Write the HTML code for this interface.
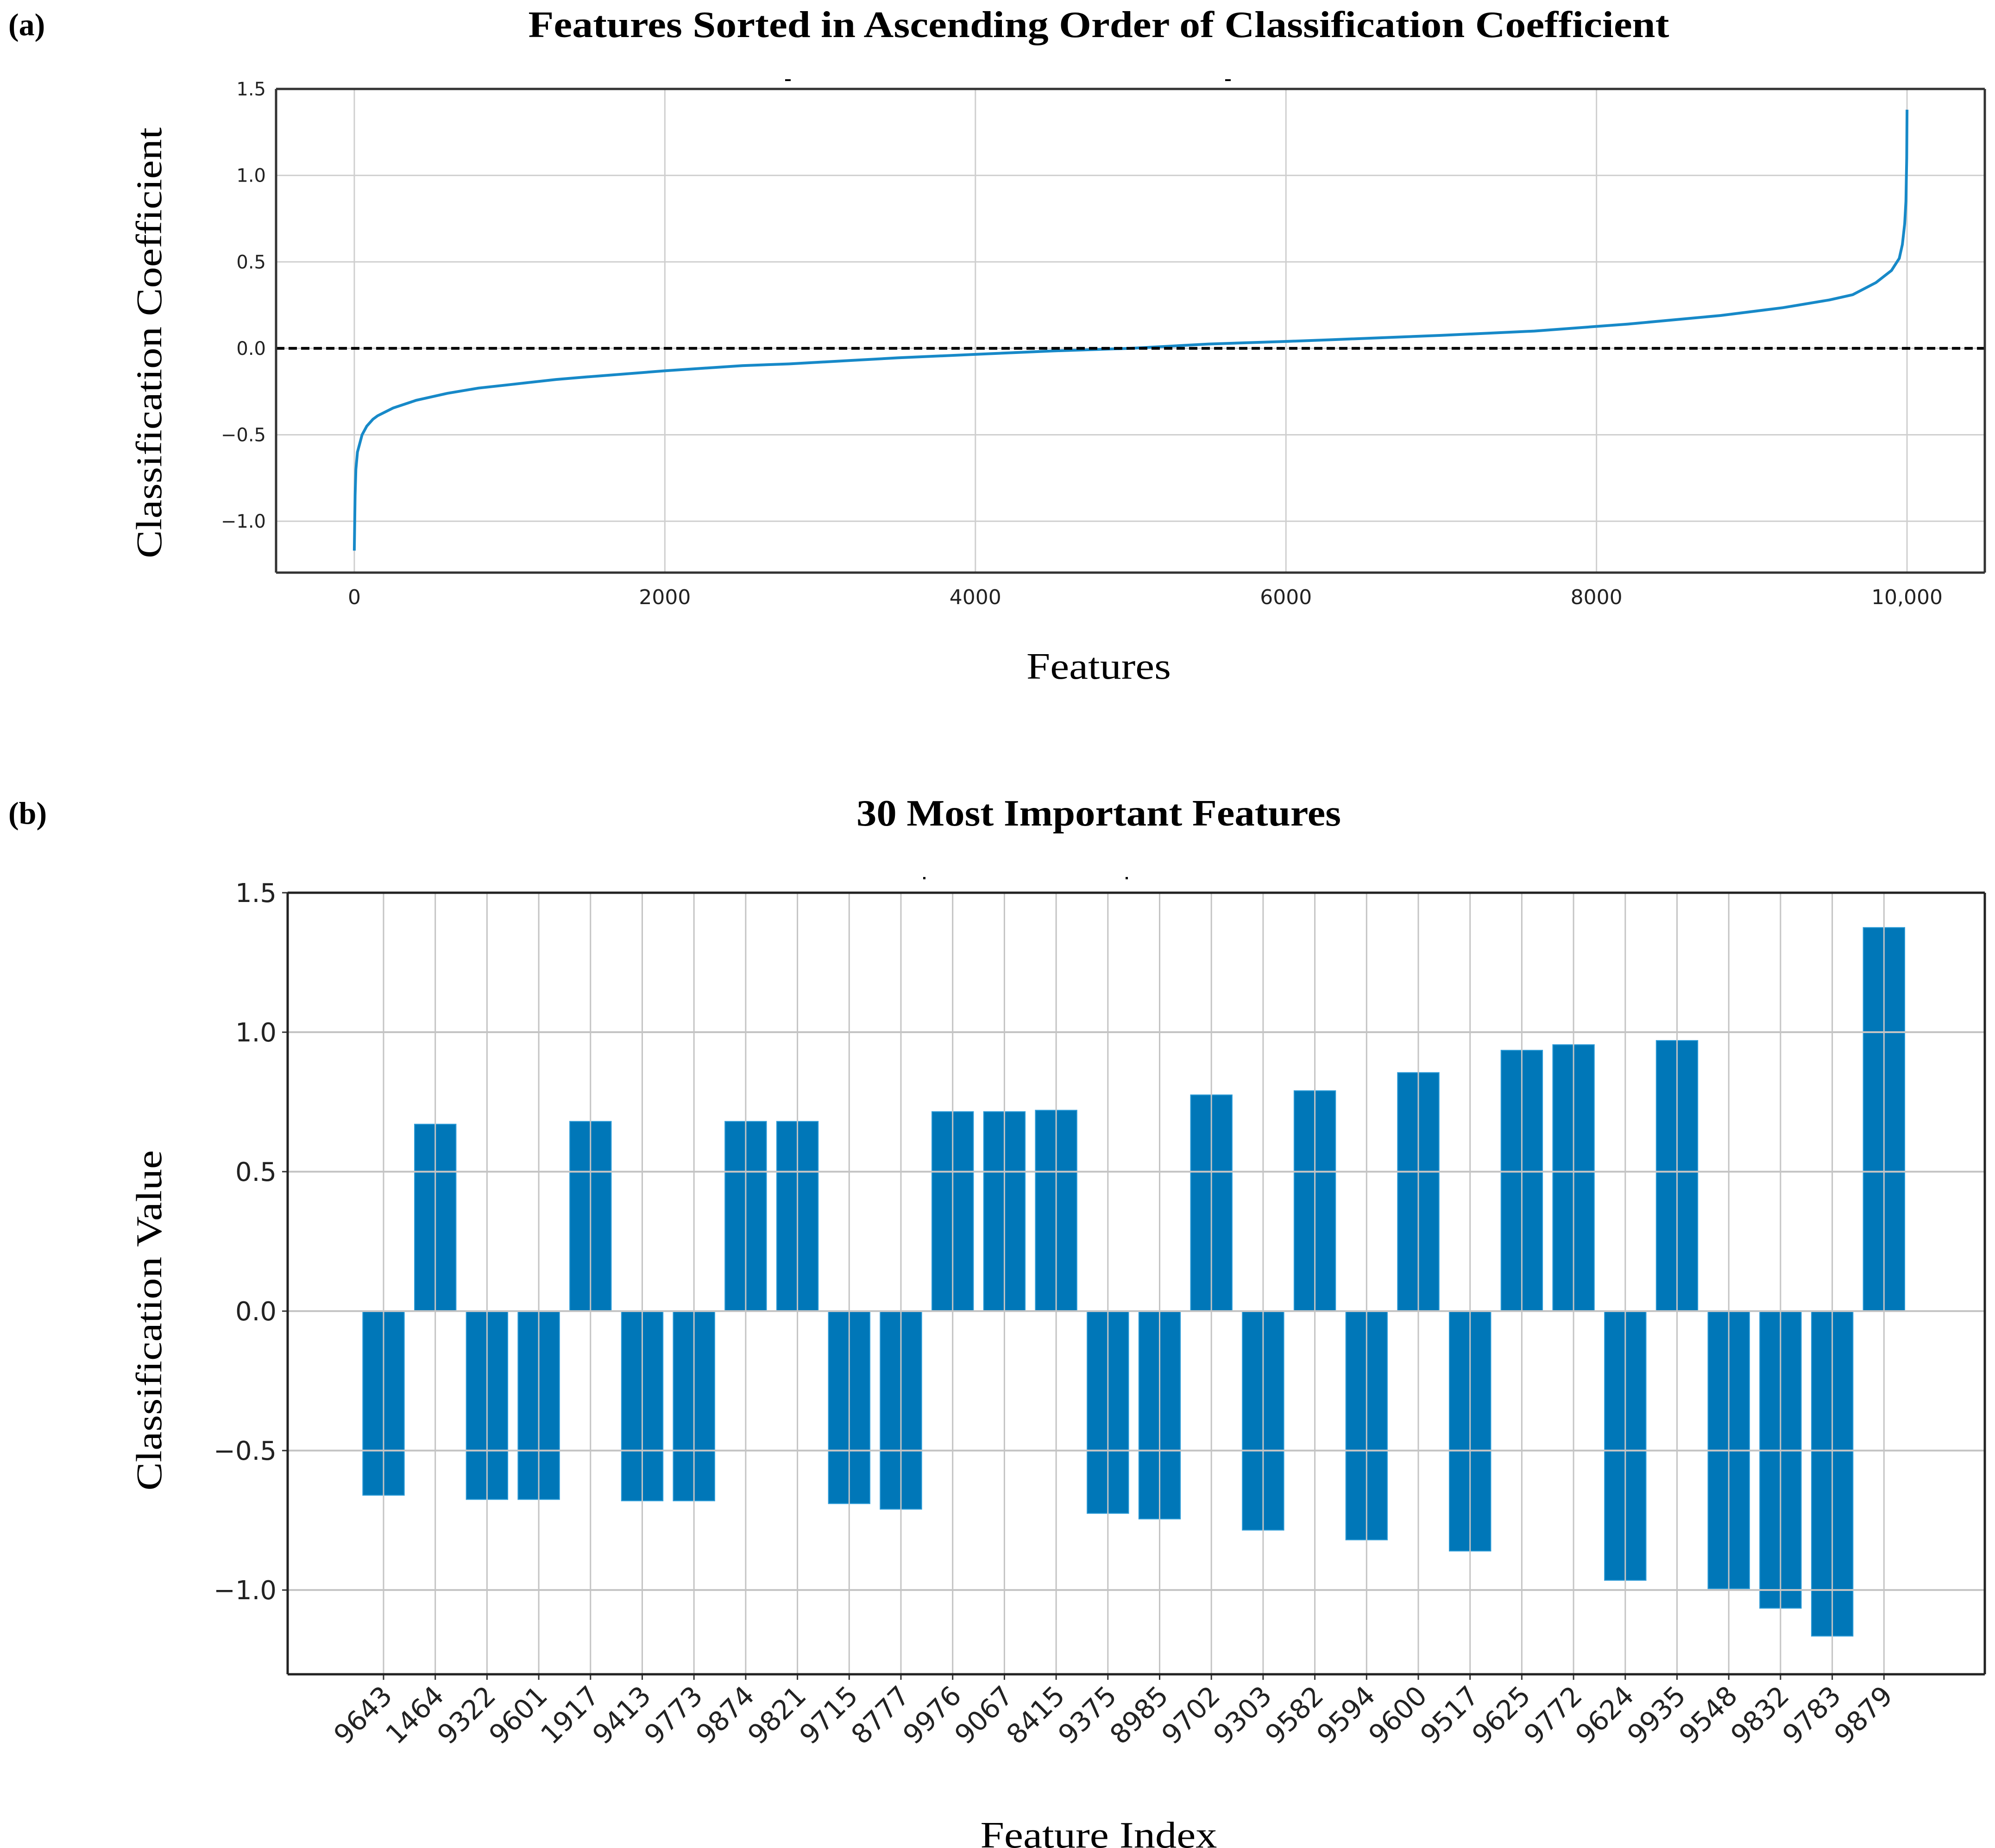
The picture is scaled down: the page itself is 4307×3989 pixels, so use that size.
<!DOCTYPE html>
<html><head><meta charset="utf-8"><style>
html,body{margin:0;padding:0;background:#fff;}
svg{display:block;}
</style></head><body>
<svg id="fig" width="4307" height="3989" viewBox="0 0 4307 3989" xmlns="http://www.w3.org/2000/svg">
<rect width="4307" height="3989" fill="#fff"/>
<text x="18" y="76" font-family="Liberation Serif, serif" font-weight="bold" font-size="68">(a)</text>
<text x="2372" y="80" text-anchor="middle" font-family="Liberation Serif, serif" font-weight="bold" font-size="80" textLength="2463" lengthAdjust="spacingAndGlyphs">Features Sorted in Ascending Order of Classification Coefficient</text>
<text x="18" y="1778" font-family="Liberation Serif, serif" font-weight="bold" font-size="68">(b)</text>
<text x="2372" y="1782" text-anchor="middle" font-family="Liberation Serif, serif" font-weight="bold" font-size="80" textLength="1046" lengthAdjust="spacingAndGlyphs">30 Most Important Features</text>
<g id="ca"></g>
<g id="cb"></g>
<text x="2372" y="1465" text-anchor="middle" font-family="Liberation Serif, serif" font-size="80" textLength="312" lengthAdjust="spacingAndGlyphs">Features</text>
<text transform="translate(348,740) rotate(-90)" text-anchor="middle" font-family="Liberation Serif, serif" font-size="78" textLength="930" lengthAdjust="spacingAndGlyphs">Classification Coefficient</text>
<text x="2372" y="3988" text-anchor="middle" font-family="Liberation Serif, serif" font-size="80" textLength="511" lengthAdjust="spacingAndGlyphs">Feature Index</text>
<text transform="translate(348,2850) rotate(-90)" text-anchor="middle" font-family="Liberation Serif, serif" font-size="78" textLength="735" lengthAdjust="spacingAndGlyphs">Classification Value</text>
</svg>
<script>
const curveX = [0,5,10,20,35,50,80,120,150,250,400,600,800,1000,1300,1500,2000,2500,2800,3200,3500,4000,4500,5000,5500,6000,6300,7000,7600,8200,8800,9200,9500,9650,9800,9900,9950,9970,9985,9993,9998,10000];
const curveY = [-1.17,-0.85,-0.7,-0.6,-0.55,-0.5,-0.45,-0.41,-0.39,-0.345,-0.30,-0.26,-0.23,-0.21,-0.18,-0.165,-0.13,-0.10,-0.09,-0.07,-0.055,-0.035,-0.015,0.0,0.025,0.04,0.05,0.075,0.10,0.14,0.19,0.235,0.28,0.31,0.38,0.45,0.52,0.6,0.72,0.85,1.1,1.38];
const aXTicks = [0,2000,4000,6000,8000,10000];
const aXTickLabels = ["0","2000","4000","6000","8000","10,000"];
const aYTicks = [-1.0,-0.5,0.0,0.5,1.0,1.5];
const aYTickLabels = ["\u22121.0","\u22120.5","0.0","0.5","1.0","1.5"];

const featureNames = ["9643","1464","9322","9601","1917","9413","9773","9874","9821","9715","8777","9976","9067","8415","9375","8985","9702","9303","9582","9594","9600","9517","9625","9772","9624","9935","9548","9832","9783","9879"];
const featureValues = [-0.66,0.67,-0.675,-0.675,0.68,-0.68,-0.68,0.68,0.68,-0.69,-0.71,0.715,0.715,0.72,-0.725,-0.745,0.775,-0.785,0.79,-0.82,0.855,-0.86,0.935,0.955,-0.965,0.97,-0.995,-1.065,-1.165,1.375];
const bYTicks = [-1.0,-0.5,0.0,0.5,1.0,1.5];
const bYTickLabels = ["\u22121.0","\u22120.5","0.0","0.5","1.0","1.5"];

const NS="http://www.w3.org/2000/svg";
function mk(parent,tag,attrs,text){const e=document.createElementNS(NS,tag);for(const k in attrs)e.setAttribute(k,attrs[k]);if(text!==undefined)e.textContent=text;parent.appendChild(e);return e;}

// Chart A
(function(){
const g=document.getElementById('ca');
const L=596,R=4285,T=192,B=1236;
const xmin=-504,xmax=10501,ymin=-1.297,ymax=1.5;
const sx=v=>L+(v-xmin)/(xmax-xmin)*(R-L);
const sy=v=>B-(v-ymin)/(ymax-ymin)*(B-T);
aXTicks.forEach((t,i)=>{
 const l=mk(g,'line',{x1:sx(t),x2:sx(t),y1:T,y2:B,stroke:'#cfcfcf','stroke-width':3});
 
 
 const tx=mk(g,'text',{x:sx(t),y:B+68,'text-anchor':'middle','font-family':'DejaVu Sans, sans-serif','font-size':44,fill:'#222'},aXTickLabels[i]);
 
 
});
aYTicks.forEach((t,i)=>{
 if(t<1.5){const l=mk(g,'line',{x1:L,x2:R,y1:sy(t),y2:sy(t),stroke:'#cfcfcf','stroke-width':3});
 
 }
 const tx=mk(g,'text',{x:L-22,y:sy(t)+14,'text-anchor':'end','font-family':'DejaVu Sans, sans-serif','font-size':40,fill:'#222'},aYTickLabels[i]);
 
 
});
const pts=curveX.map((x,i)=>sx(x).toFixed(1)+','+sy(curveY[i]).toFixed(1)).join(' ');
const pl=mk(g,'polyline',{points:pts,fill:'none',stroke:'#1789c8','stroke-width':6,'stroke-linejoin':'round'});


const z=mk(g,'line',{x1:L,x2:R,y1:sy(0),y2:sy(0),stroke:'#000','stroke-width':6,'stroke-dasharray':'18,9'});


const fr=mk(g,'path',{d:`M${L},${T}H${R}M${L},${B}H${R}M${L},${T}V${B}M${R},${T}V${B}`,stroke:'#333','stroke-width':5,fill:'none'});


[1695,2645].forEach(x=>{mk(g,'rect',{x:x,y:171,width:12,height:4,fill:'#000'});});
})();

// Chart B
(function(){
const g=document.getElementById('cb');
const L=621,R=4285,T=1927,B=3614;
const c0=828,step=111.7;
const xmin=(L-c0)/step,xmax=(R-c0)/step;
const ymin=-1.302,ymax=1.5;
const sx=v=>L+(v-xmin)/(xmax-xmin)*(R-L);
const sy=v=>B-(v-ymin)/(ymax-ymin)*(B-T);
const bw=0.8;
featureValues.forEach((v,i)=>{
 const x0=sx(i-bw/2),x1=sx(i+bw/2);
 const y0=sy(Math.max(v,0)),y1=sy(Math.min(v,0));
 const r=mk(g,'rect',{x:x0,y:y0,width:x1-x0,height:y1-y0,fill:'#0077b8',stroke:'#2b9ad6','stroke-width':2});
 
 
});
featureNames.forEach((nm,i)=>{
 const l=mk(g,'line',{x1:sx(i),x2:sx(i),y1:T,y2:B,stroke:'#c4c4c4','stroke-width':3});
 
 
 mk(g,'line',{x1:sx(i),x2:sx(i),y1:B,y2:B+12,stroke:'#333','stroke-width':3});
 const tx=mk(g,'text',{transform:`translate(${sx(i)+22},${B+50}) rotate(-45)`,'text-anchor':'end','font-family':'DejaVu Sans, sans-serif','font-size':58,fill:'#222'},nm);
 
 
});
bYTicks.forEach((t,i)=>{
 if(t<1.5){const l=mk(g,'line',{x1:L,x2:R,y1:sy(t),y2:sy(t),stroke:'#c4c4c4','stroke-width':4});
 
 }
 mk(g,'line',{x1:L-12,x2:L,y1:sy(t),y2:sy(t),stroke:'#333','stroke-width':3});
 const tx=mk(g,'text',{x:L-24,y:sy(t)+20,'text-anchor':'end','font-family':'DejaVu Sans, sans-serif','font-size':56,fill:'#222'},bYTickLabels[i]);
 
 
});
const fr=mk(g,'path',{d:`M${L},${T}H${R}M${L},${B}H${R}M${L},${T}V${B}M${R},${T}V${B}`,stroke:'#222','stroke-width':5,fill:'none'});


[1993,2430].forEach(x=>{mk(g,'rect',{x:x,y:1893,width:5,height:5,fill:'#000'});});
})();
</script>
</body></html>
